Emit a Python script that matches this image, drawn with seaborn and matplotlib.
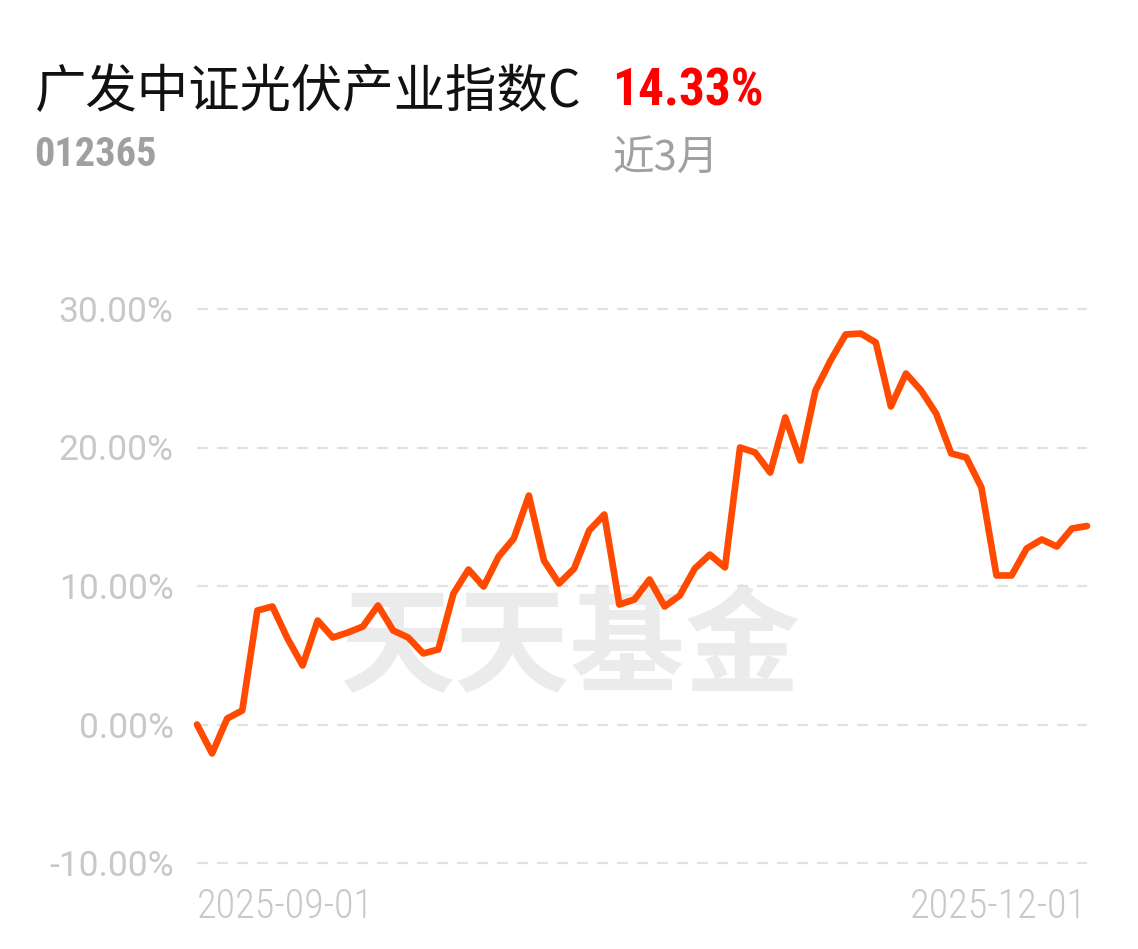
import matplotlib
matplotlib.use("Agg")
import matplotlib.pyplot as plt
import seaborn as sns
import pandas as pd

# ---- data ----
returns = [0.0, -2.09, 0.43, 1.01, 8.23, 8.52, 6.21, 4.26, 7.51, 6.28,
           6.64, 7.08, 8.59, 6.79, 6.28, 5.13, 5.42, 9.46, 11.19, 9.96,
           12.13, 13.43, 16.53, 11.84, 10.18, 11.26, 14.01, 15.16, 8.66, 9.03,
           10.47, 8.52, 9.31, 11.26, 12.27, 11.34, 20.0, 19.64, 18.19, 22.17,
           19.06, 24.12, 26.28, 28.16, 28.23, 27.58, 22.96, 25.34, 24.12, 22.45,
           19.57, 19.28, 17.11, 10.76, 10.76, 12.71, 13.36, 12.85, 14.15, 14.33]
x_labels = ["2025-09-01", "2025-12-01"]
y_ticks = [-10, 0, 10, 20, 30]
fund_name = "广发中证光伏产业指数C"
fund_code = "012365"
period_return = "14.33%"
period_label = "近3月"
watermark = "天天基金"

df = pd.DataFrame({"idx": list(range(len(returns))), "ret": returns})

sns.set_theme(style="white")
plt.rcParams["font.family"] = ["Roboto", "Noto Sans CJK SC", "DejaVu Sans"]

CJK = ["Noto Sans CJK SC", "DejaVu Sans"]
COND = ["Roboto Condensed", "Roboto"]

fig = plt.figure(figsize=(11.38, 9.49), dpi=100)
W, H = 1138, 949
ax = fig.add_axes([197 / W, 1 - 863 / H, (1087 - 197) / W, (863 - 309) / H])

# watermark (behind the line)
ax.text(570 / W, 1 - 650 / H, watermark, transform=fig.transFigure,
        fontsize=83, fontweight="bold", color="#ebebeb",
        ha="center", va="center", family=CJK, zorder=0)

for v in y_ticks:
    ax.axhline(v, color="#e2e2e2", lw=1.6, ls=(0, (5, 4)), zorder=1)

sns.lineplot(data=df, x="idx", y="ret", ax=ax, color="#ff4a00", lw=4.8,
             solid_joinstyle="round", solid_capstyle="round", zorder=3)
for l in ax.lines:
    l.set_clip_on(False)

ax.set_xlim(0, len(returns) - 1)
ax.set_ylim(-10, 30)
ax.set_yticks(y_ticks)
ax.set_yticklabels([f"{v:.2f}%" for v in y_ticks], color="#c8c8c8", fontsize=25.5)
ax.tick_params(axis="y", length=0, pad=17)
ax.set_xticks([])
ax.set_xlabel("")
ax.set_ylabel("")
for s in ax.spines.values():
    s.set_visible(False)

# date labels
for xpos, lab, ha in [(0, x_labels[0], "left"), (1, x_labels[1], "right")]:
    ax.text(xpos, -(907 - 863) / (863 - 309), lab, transform=ax.transAxes,
            ha=ha, va="center", fontsize=29, fontweight=300, color="#c8c8c8",
            family=COND)

# header
fig.text(35 / W, 1 - 92 / H, fund_name, fontsize=37, color="#111111",
         ha="left", va="center", family=CJK)
fig.text(612 / W, 1 - 92 / H, period_return, fontsize=37, color="#ff0000",
         fontweight="bold", ha="left", va="center", family=COND)
fig.text(34 / W, 1 - 155 / H, fund_code, fontsize=29, color="#a0a0a0",
         fontweight="bold", ha="left", va="center", family=COND)
fig.text(612 / W, 1 - 158 / H, period_label, fontsize=30, color="#a0a0a0",
         ha="left", va="center", family=CJK)

fig.savefig("out.png", dpi=100, facecolor="white")
